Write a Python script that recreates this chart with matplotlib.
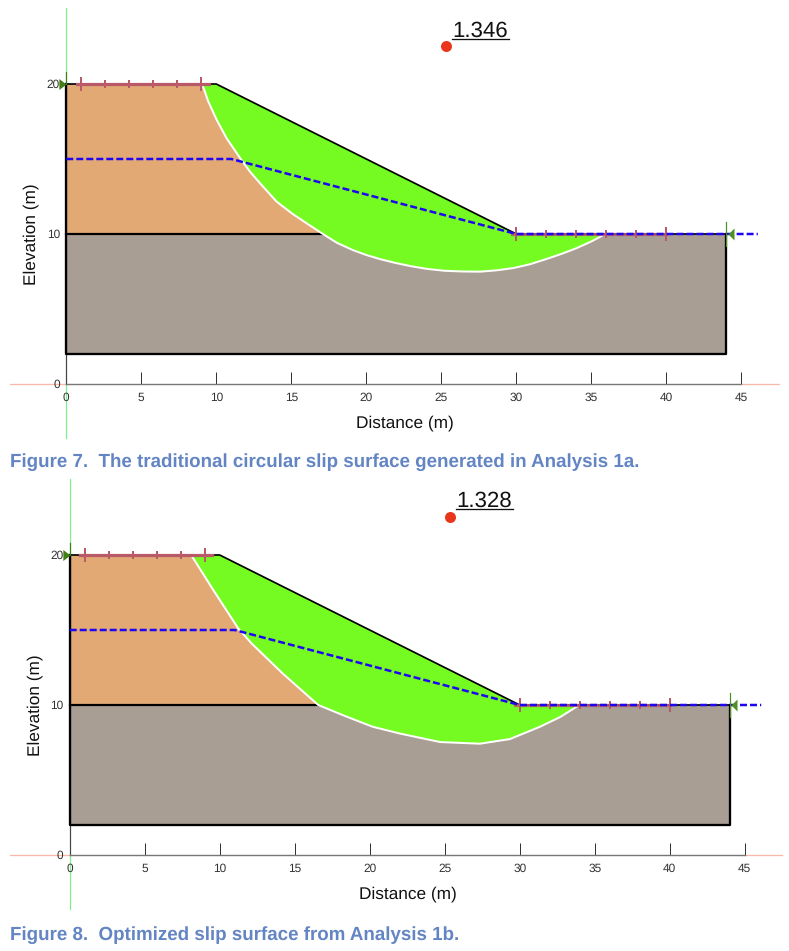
#Slip surface figures, analysis 1a and 1b

import matplotlib
matplotlib.use('Agg')
from matplotlib import pyplot as plt

plt.rcParams['font.family'] = ['Liberation Sans', 'DejaVu Sans']
plt.rcParams['text.hinting'] = 'no_hinting'

# slope geometry (m)
ground_x = [0, 10, 30, 44]
ground_y = [20, 20, 10, 10]
base_y = 2
layer_y = 10
piezo_x = [0, 11, 30, 46.1]
piezo_y = [15, 15, 10, 10]
entry_x = [1, 2.6, 4.2, 5.8, 7.4, 9]
exit_x = [30, 32, 34, 36, 38, 40]
x_ticks = [0, 5, 10, 15, 20, 25, 30, 35, 40, 45]
y_ticks = [0, 10, 20]

# analysis 1a
slip_a_x = [9.09, 9.47, 10.03, 10.69, 11.58, 12.25, 12.9, 14.03, 15.1, 16.03, 17.03, 18.03, 19.1, 20.0, 20.9,
            21.9, 22.9, 24.0, 25.2, 26.4, 27.6, 28.7, 29.8, 30.9, 32.0, 33.0, 34.0, 35.0, 35.9]
slip_a_y = [19.9, 18.82, 17.6, 16.38, 15.07, 14.15, 13.4, 12.15, 11.33, 10.71, 10.05, 9.42, 8.93, 8.6, 8.33,
            8.08, 7.87, 7.68, 7.55, 7.5, 7.49, 7.58, 7.73, 7.98, 8.33, 8.67, 9.05, 9.5, 9.98]
center_a = (25.3, 22.53)
fos_a = '1.346'
caption_a = 'Figure 7.  The traditional circular slip surface generated in Analysis 1a.'

# analysis 1b
slip_b_x = [8.13, 9.57, 11.24, 12.13, 14.2, 16.57, 18.47, 20.2, 22.0, 24.7, 27.35, 29.35, 31.35, 32.7, 33.8]
slip_b_y = [19.95, 17.67, 15.1, 14.1, 12.1, 10.0, 9.22, 8.55, 8.1, 7.53, 7.42, 7.73, 8.55, 9.2, 9.89]
center_b = (25.35, 22.56)
fos_b = '1.328'
caption_b = 'Figure 8.  Optimized slip surface from Analysis 1b.'

W, H = 789, 951
SCALE = 15.0  # px per metre
PT = 0.72     # pt per px at dpi 100

ORANGE = '#e2a974'
GREY = '#a99e94'
GREEN = '#75fb21'
BLUE = '#1f06f0'
RED = '#b95a68'
DARK_GREEN = '#3f7f14'

ARROW_RIGHT = [(-1.3, -1), (0, 0), (-1.3, 1), (-1.3, -1)]
ARROW_LEFT = [(1, -1), (0, 0), (1, 1), (1, -1)]


def draw_panel(top_px, bottom_px, x0_px, y0_px, slip_x, slip_y, center, fos, fos_left_px):
    ax = fig.add_axes([0, 1 - bottom_px / H, 1, (bottom_px - top_px) / H])
    ax.set_xlim(-x0_px / SCALE, (W - x0_px) / SCALE)
    ax.set_ylim((y0_px - bottom_px) / SCALE, (y0_px - top_px) / SCALE)
    ax.patch.set_alpha(0)

    # material regions
    ax.fill([0, 10, 30, 0], [20, 20, 10, 10], c=ORANGE, lw=0, zorder=1)
    ax.fill([0, 44, 44, 0], [base_y, base_y, 10, 10], c=GREY, lw=0, zorder=1)
    ax.plot([0, 30], [layer_y, layer_y], c='black', lw=2.2 * PT, zorder=2)

    # sliding mass
    mass_x = slip_x + [30, 10]
    mass_y = slip_y + [10, 20]
    ax.fill(mass_x, mass_y, c=GREEN, lw=0, zorder=3)
    ax.plot(slip_x, slip_y, c='white', lw=2.0 * PT, zorder=4)

    # outer boundary
    ax.plot([0, 0, 44, 44], [20, base_y, base_y, 10], c='black', lw=2.3 * PT, zorder=5)
    ax.plot(ground_x, ground_y, c='black', lw=1.7 * PT, zorder=5)

    # axis guide lines
    ax.plot([-x0_px / SCALE + 10 / SCALE, 0], [0, 0], c='#f9b9a9', lw=1.3 * PT, zorder=0)
    ax.plot([45, 47.5], [0, 0], c='#f9b9a9', lw=1.3 * PT, zorder=0)
    ax.plot([0, 0], [-3.6, 0], c='#7df08a', lw=1.2 * PT, zorder=0)
    ax.plot([0, 0], [20, 25.05], c='#7df08a', lw=1.2 * PT, zorder=0)

    # entry and exit ranges
    ax.plot([entry_x[0] - 0.3, entry_x[-1] + 0.5], [20, 20], c=RED, lw=3.2 * PT, zorder=6)
    ax.plot([exit_x[0] - 0.3, exit_x[-1]], [10, 10], c=RED, lw=3.2 * PT, alpha=0.85, zorder=6)
    for xs, y in ((entry_x, 20), (exit_x, 10)):
        for i, x in enumerate(xs):
            half = 0.43 if i in (0, len(xs) - 1) else 0.2
            ax.plot([x, x], [y - half, y + half], c=RED, lw=2.0 * PT, zorder=6)

    # pressure line
    ax.plot(piezo_x, piezo_y, c=BLUE, lw=2.5 * PT, dashes=(2.8, 1.2), zorder=7)

    # limit arrows
    ax.plot([0], [20], marker=ARROW_RIGHT, ms=14.3 * PT, c=DARK_GREEN, mew=0, zorder=8, ls='none')
    ax.plot([0, 0], [20, 20.8], c=DARK_GREEN, lw=1.2 * PT, zorder=8)
    ax.plot([44.1], [10], marker=ARROW_LEFT, ms=12 * PT, c='#4c8f22', mew=0, zorder=8, ls='none')
    ax.plot([44, 44], [9.2, 10.8], c='#4c8f22', lw=1.2 * PT, zorder=8)

    # slip centre and factor of safety
    ax.plot([center[0]], [center[1]], 'o', ms=11 * PT, c='#e8351c', mew=0, zorder=9)
    fos_x = (fos_left_px - x0_px) / SCALE
    ax.text(fos_x, center[1] + 0.65, fos, fontsize=16, color='#111111', ha='left', va='baseline', zorder=9)
    ax.plot([fos_x, fos_x + 3.8], [center[1] + 0.5, center[1] + 0.5], c='#111111', lw=1.3 * PT, zorder=9)

    # axes
    for side in ('top', 'right'):
        ax.spines[side].set_visible(False)
    ax.spines['bottom'].set_position(('data', 0))
    ax.spines['bottom'].set_bounds(0, 45)
    ax.spines['bottom'].set_color('#777777')
    ax.spines['bottom'].set_linewidth(1.4 * PT)
    ax.spines['left'].set_position(('data', 0))
    ax.spines['left'].set_bounds(0, 20)
    ax.spines['left'].set_color('#444444')
    ax.spines['left'].set_linewidth(1.2 * PT)
    ax.set_xticks(x_ticks)
    ax.set_yticks(y_ticks)
    ax.tick_params(axis='x', direction='in', length=12 * PT, width=1.0 * PT, color='#333333',
                   labelsize=8.6, labelcolor='#333333', pad=6.2)
    ax.tick_params(axis='y', length=0, labelsize=8.6, labelcolor='#333333', pad=4.5)
    ax.xaxis.get_major_ticks()[0].tick1line.set_visible(False)
    ax.set_xlabel('Distance (m)', fontsize=12.4, color='#111111')
    ax.set_ylabel('Elevation (m)', fontsize=12.4, color='#111111')
    ax.xaxis.set_label_coords(22.55, -2.05, transform=ax.transData)
    ax.yaxis.set_label_coords(-1.81, 10, transform=ax.transData)
    return ax


fig = plt.figure(figsize=(W / 100, H / 100), dpi=100, facecolor='white')

draw_panel(0, 470, 66.3, 384, slip_a_x, slip_a_y, center_a, fos_a, 452)
draw_panel(470, 951, 69.7, 855, slip_b_x, slip_b_y, center_b, fos_b, 456)

for caption, baseline_px in ((caption_a, 467), (caption_b, 940)):
    fig.text(10 / W, 1 - baseline_px / H, caption, fontsize=13.5, fontweight='bold',
             color='#6385c3', ha='left', va='baseline')

fig.savefig('out.png', dpi=100)
